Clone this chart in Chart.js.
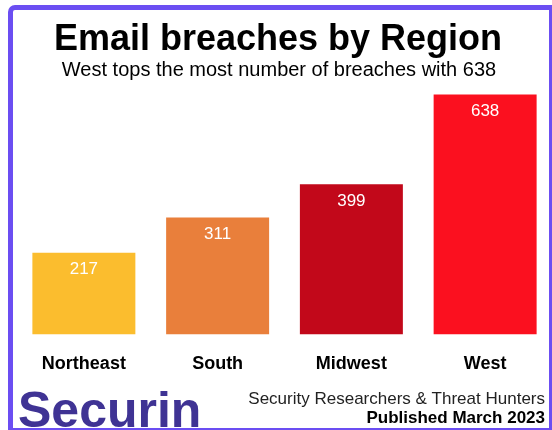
<!DOCTYPE html>
<html>
<head>
<meta charset="utf-8">
<script src="https://cdn.jsdelivr.net/npm/chart.js@4"></script>
<style>
  html, body { margin: 0; padding: 0; background: #fff; }
  #wrap { position: relative; width: 552px; height: 430px; overflow: hidden; }
  #frame {
    position: absolute; left: 8px; top: 5px; right: 0; bottom: 0;
    border: solid #6b4ef2; border-width: 5px 3px 2px 5px;
    border-top-left-radius: 7px; box-sizing: border-box; pointer-events: none;
  }
</style>
</head>
<body>
<div id="wrap">
  <canvas id="chart" width="552" height="430"></canvas>
  <div id="frame"></div>
</div>
<script>
const regions = ['Northeast', 'South', 'Midwest', 'West'];
const breaches = [217, 311, 399, 638];
const barColors = ['#fbbd2e', '#e97f3b', '#c2081a', '#fb101f'];
const titleText = 'Email breaches by Region';
const subtitleText = 'West tops the most number of breaches with 638';
const footerLines = ['Security Researchers & Threat Hunters', 'Published March 2023'];
const brand = 'Securin';

const sans = '"Liberation Sans", Arial, sans-serif';

// titles, value labels and the footer, drawn on the chart canvas
const textPlugin = {
  id: 'texts',
  afterDatasetsDraw(chart) {
    const ctx = chart.ctx;
    const meta = chart.getDatasetMeta(0);
    ctx.save();
    ctx.fillStyle = '#fff';
    ctx.textAlign = 'center';
    ctx.textBaseline = 'middle';
    ctx.font = '17px ' + sans;
    meta.data.forEach((bar, i) => {
      ctx.fillText(String(breaches[i]), bar.x, bar.y + 17);
    });
    ctx.restore();
  },
  afterDraw(chart) {
    const ctx = chart.ctx;
    ctx.save();
    ctx.fillStyle = '#000';
    ctx.textAlign = 'center';
    ctx.textBaseline = 'alphabetic';
    ctx.font = 'bold 36px ' + sans;
    ctx.fillText(titleText, 278, 50);
    ctx.font = '20px ' + sans;
    ctx.fillText(subtitleText, 279, 76);

    ctx.textAlign = 'right';
    ctx.fillStyle = '#222';
    ctx.font = '17px ' + sans;
    ctx.fillText(footerLines[0], 545, 404);
    ctx.fillStyle = '#000';
    ctx.font = 'bold 17px ' + sans;
    ctx.fillText(footerLines[1], 545, 423);

    ctx.textAlign = 'left';
    ctx.fillStyle = '#3f3394';
    ctx.font = 'bold 50px ' + sans;
    ctx.fillText(brand, 18, 427);
    ctx.restore();
  }
};

new Chart(document.getElementById('chart').getContext('2d'), {
  type: 'bar',
  data: {
    labels: regions,
    datasets: [{
      label: 'Email breaches',
      data: breaches,
      backgroundColor: barColors,
      borderWidth: 0,
      barPercentage: 0.77,
      categoryPercentage: 1.0
    }]
  },
  options: {
    responsive: false,
    animation: false,
    layout: { padding: { left: 17, right: 0, top: 88, bottom: 36 } },
    plugins: {
      legend: { display: false },
      title: { display: false },
      tooltip: { enabled: false }
    },
    scales: {
      x: {
        grid: { display: false, drawTicks: false },
        border: { display: false },
        ticks: {
          color: '#000',
          padding: 19,
          font: { family: sans, size: 18, weight: 'bold' }
        }
      },
      y: { display: false, min: 0, max: 655 }
    }
  },
  plugins: [textPlugin]
});
</script>
</body>
</html>
